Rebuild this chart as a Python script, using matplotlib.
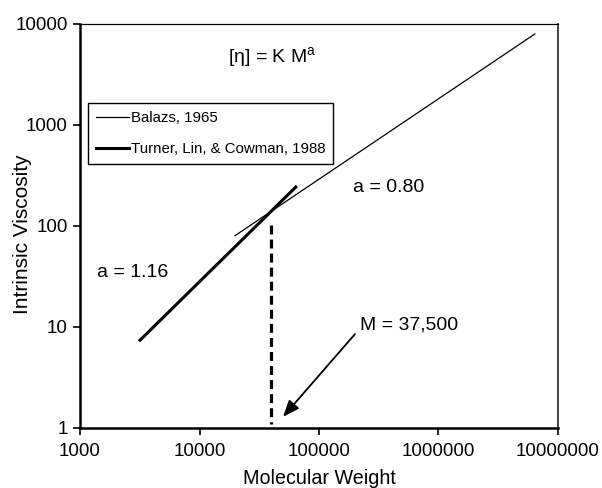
import matplotlib.pyplot as plt

plt.rcParams['font.family'] = ['Liberation Sans', 'DejaVu Sans']

# Balazs, 1965 (a = 0.80)
balazs_m = [19800, 6400000]
balazs_eta = [80, 7950]
# Turner, Lin, & Cowman, 1988 (a = 1.16)
turner_m = [3180, 64000]
turner_eta = [7.4, 243]
# crossover (drawn slightly right of 37,500 in the original), top to bottom
m_cross = 39500
cross_eta = [102, 1.1]

fig = plt.figure(figsize=(6.02, 4.88), dpi=100)
ax = fig.add_axes([0.1329, 0.123, 0.794, 0.828])

ax.plot(balazs_m, balazs_eta, color='black', lw=0.9, label='Balazs, 1965')
ax.plot(turner_m, turner_eta, color='black', lw=2.2, label='Turner, Lin, & Cowman, 1988')
ax.plot([m_cross, m_cross], cross_eta, color='black', lw=2.3, dashes=(2.8, 1.6))

ax.set_xscale('log')
ax.set_yscale('log')
ax.set_xlim(1000, 1e7)
ax.set_ylim(1, 1e4)
ax.set_xticks([1e3, 1e4, 1e5, 1e6, 1e7])
ax.set_xticklabels(['1000', '10000', '100000', '1000000', '10000000'])
ax.set_yticks([1, 10, 100, 1000, 10000])
ax.set_yticklabels(['1', '10', '100', '1000', '10000'])
ax.minorticks_off()
ax.tick_params(labelsize=13.5, direction='out', length=5, width=1.2, colors='black')
ax.tick_params(axis='x', pad=6)
ax.tick_params(axis='y', pad=4)

ax.spines['left'].set_linewidth(1.8)
ax.spines['bottom'].set_linewidth(1.8)
ax.spines['top'].set_linewidth(0.9)
ax.spines['right'].set_linewidth(1.4)
ax.spines['right'].set_color('#444444')

ax.set_xlabel('Molecular Weight', fontsize=14.2, labelpad=6)
ax.set_ylabel('Intrinsic Viscosity', fontsize=15)
ax.yaxis.set_label_coords(-0.10, 0.48)

ax.text(17300, 4600, r'[$\mathregular{\eta}$] = K M$^\mathregular{a}$', fontsize=14, va='center')
ax.text(193000, 238, 'a = 0.80', fontsize=14, va='center')
ax.text(1390, 35, 'a = 1.16', fontsize=14, va='center')
ax.text(220000, 10.5, 'M = 37,500', fontsize=14, va='center')
ax.annotate('', xy=(50000, 1.29), xytext=(200000, 8.5),
            arrowprops=dict(arrowstyle='-|>,head_length=1.0,head_width=0.4', color='black', lw=1.3,
                            shrinkA=0, shrinkB=0))

leg = ax.legend(loc='upper left', bbox_to_anchor=(0.0167, 0.804), borderaxespad=0,
                fontsize=10.8, fancybox=False, edgecolor='black', framealpha=1,
                handlelength=2.2, handletextpad=0.1, borderpad=0.55, labelspacing=1.1)
leg.get_frame().set_linewidth(1.0)

fig.savefig('out.png', dpi=100)
